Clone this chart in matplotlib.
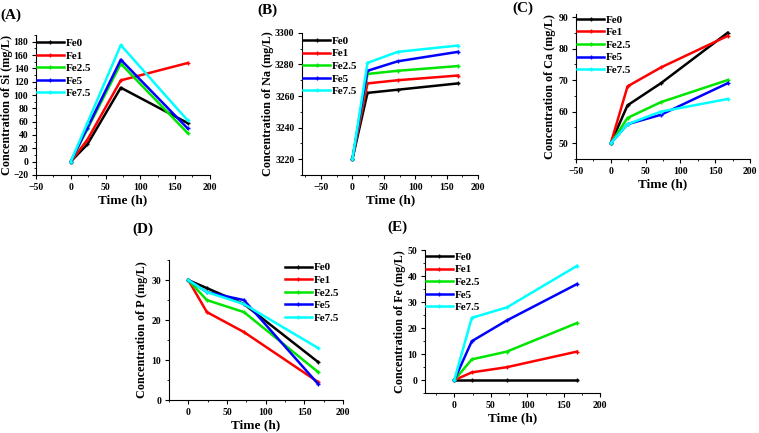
import matplotlib
matplotlib.use("Agg")
import matplotlib.pyplot as plt
from matplotlib.ticker import AutoMinorLocator

plt.rcParams["font.family"] = ["Liberation Serif", "DejaVu Serif"]
plt.rcParams["font.weight"] = "bold"

time_h = [0, 24, 72, 168]
series_names = ["Fe0", "Fe1", "Fe2.5", "Fe5", "Fe7.5"]
colors = ["#000000", "#ff0000", "#00e600", "#0000ff", "#00ffff"]

si = [[0, 26, 111, 58],
      [0, 33, 122, 148],
      [0, 49, 147, 43],
      [0, 51, 153, 50],
      [0, 58, 175, 62]]
na = [[3220, 3262, 3264, 3268],
      [3220, 3268, 3270, 3273],
      [3220, 3274, 3276, 3279],
      [3220, 3276, 3282, 3288],
      [3220, 3281, 3288, 3292]]
ca = [[50, 62, 69, 85],
      [50, 68, 74, 84],
      [50, 58, 63, 70],
      [50, 56, 59, 69],
      [50, 56, 60, 64]]
p = [[30, 28, 24, 9.5],
     [30, 22, 17, 4.5],
     [30, 25, 22, 7],
     [30, 27, 25, 4],
     [30, 27, 24, 13]]
fe = [[0, 0, 0, 0],
      [0, 3, 5, 11],
      [0, 8, 11, 22],
      [0, 15, 23, 37],
      [0, 24, 28, 44]]

panels = [
    # tag, data, ylabel, rect, xlim, ylim, yticks, legend anchor, tag pos, ylabel x
    ("(A)", si, "Concentration of Si (mg/L)", [0.0474, 0.596, 0.229, 0.323],
     (-50, 200), (-20, 190), range(-20, 181, 20), (0.0, 0.985), (0.0, 0.965), -0.165),
    ("(B)", na, "Concentration of Na (mg/L)", [0.398, 0.596, 0.232, 0.328],
     (-80, 200), (3210, 3300), range(3220, 3301, 20), (0.0, 0.985), (0.339, 0.977), -0.195),
    ("(C)", ca, "Concentration of Ca (mg/L)", [0.759, 0.633, 0.229, 0.335],
     (-50, 200), (45, 91), range(50, 91, 10), (0.0, 1.0), (0.675, 0.982), -0.15),
    ("(D)", p, "Concentration of P (mg/L)", [0.2227, 0.0762, 0.229, 0.323],
     (-25, 200), (0, 35), range(0, 31, 10), (0.66, 0.99), (0.175, 0.471), -0.155),
    ("(E)", fe, "Concentration of Fe (mg/L)", [0.56, 0.092, 0.231, 0.330],
     (-40, 200), (-5, 50), range(0, 51, 10), (0.0, 0.995), (0.51, 0.476), -0.143),
]

fig = plt.figure(figsize=(7.59, 4.33), dpi=100)

for tag, data, ylabel, rect, xlim, ylim, yticks, leg_anchor, tag_pos, ylab_x in panels:
    ax = fig.add_axes(rect)
    for vals, name, c in zip(data, series_names, colors):
        ax.plot(time_h, vals, color=c, lw=1.8, marker="+", ms=3, mew=1.0, label=name)
    ax.set_xlim(*xlim)
    ax.set_ylim(*ylim)
    ax.set_xticks(range(-50 if xlim[0] <= -50 else 0, 201, 50))
    ax.set_yticks(list(yticks))
    ax.xaxis.set_minor_locator(AutoMinorLocator(2))
    ax.yaxis.set_minor_locator(AutoMinorLocator(2))
    ax.spines["top"].set_visible(False)
    ax.spines["right"].set_visible(False)
    ax.tick_params(direction="out", labelsize=7, length=3, width=0.8, pad=2.5)
    ax.tick_params(which="minor", length=1.5, width=0.6)
    for lbl in ax.get_xticklabels() + ax.get_yticklabels():
        lbl.set_fontweight("bold")
    ax.set_xlabel("Time (h)", fontsize=9.5, fontweight="bold", labelpad=2)
    ax.set_ylabel(ylabel, fontsize=8.7, fontweight="bold")
    ax.yaxis.set_label_coords(ylab_x, 0.5)
    ax.yaxis.label.set_verticalalignment("center")
    ax.legend(loc="upper left", bbox_to_anchor=leg_anchor, frameon=False,
              handlelength=2.4, handletextpad=0.2, labelspacing=0.25,
              borderaxespad=0.0, borderpad=0.1,
              prop={"weight": "bold", "size": 8})
    fig.text(tag_pos[0], tag_pos[1], tag, fontsize=11, fontweight="bold",
             ha="left", va="center")

fig.savefig("out.png", dpi=100, facecolor="white")
